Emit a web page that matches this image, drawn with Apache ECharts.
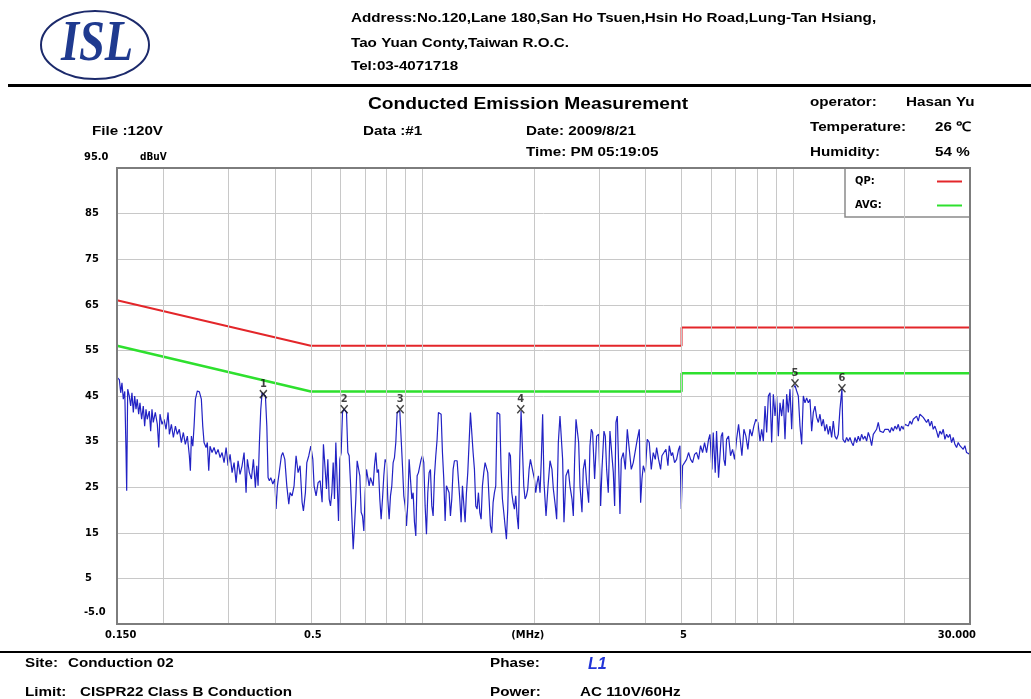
<!DOCTYPE html>
<html>
<head>
<meta charset="utf-8">
<script src="https://cdn.jsdelivr.net/npm/echarts@6/dist/echarts.min.js"></script>
<style>
html, body { margin: 0; padding: 0; background: #fff; }
#main { width: 1031px; height: 699px; }
</style>
</head>
<body>
<div id="main"></div>
<script>
// measured trace, frequency in MHz / level in dBuV
const traceFreq = [
  0.1500,0.1503,0.1522,0.1535,0.1547,0.1560,0.1574,0.1586,0.1593,0.1603,
  0.1619,0.1633,0.1646,0.1660,0.1674,0.1688,0.1701,0.1716,0.1730,0.1748,
  0.1766,0.1781,0.1796,0.1810,0.1833,0.1849,0.1864,0.1879,0.1903,0.1927,
  0.1944,0.1959,0.1984,0.2009,0.2034,0.2060,0.2077,0.2103,0.2129,0.2156,
  0.2182,0.2209,0.2237,0.2265,0.2293,0.2322,0.2351,0.2366,0.2381,0.2402,
  0.2421,0.2441,0.2471,0.2502,0.2533,0.2555,0.2576,0.2608,0.2629,0.2652,
  0.2673,0.2707,0.2741,0.2775,0.2810,0.2846,0.2881,0.2917,0.2954,0.2990,
  0.3028,0.3066,0.3104,0.3143,0.3182,0.3221,0.3262,0.3303,0.3344,0.3371,
  0.3413,0.3457,0.3500,0.3543,0.3574,0.3603,0.3633,0.3664,0.3694,0.3724,
  0.3771,0.3804,0.3834,0.3865,0.3899,0.3948,0.3997,0.4029,0.4063,0.4113,
  0.4165,0.4202,0.4254,0.4307,0.4360,0.4395,0.4450,0.4506,0.4562,0.4619,
  0.4677,0.4736,0.4775,0.4834,0.4877,0.4937,0.4999,0.5062,0.5102,0.5166,
  0.5231,0.5297,0.5363,0.5407,
  0.5466,0.5511,0.5557,0.5604,0.5650,0.5697,0.5745,0.5792,0.5840,0.5889,
  0.5938,0.5987,0.6037,0.6087,0.6138,0.6189,0.6240,0.6292,0.6344,0.6397,
  0.6450,0.6504,0.6558,0.6612,0.6667,0.6723,0.6779,0.6835,0.6892,0.6949,
  0.7007,0.7065,0.7124,0.7183,0.7243,0.7303,0.7364,0.7425,0.7487,0.7549,
  0.7611,0.7674,0.7738,0.7803,0.7867,0.7933,0.7999,0.8065,0.8132,0.8200,
  0.8268,0.8337,0.8406,0.8476,0.8546,0.8618,0.8689,0.8761,0.8834,0.8908,
  0.8982,0.9057,0.9132,0.9208,0.9284,0.9362,0.9440,0.9518,0.9597,0.9677,
  0.9757,0.9838,0.9920,1.0002,1.0085,1.0169,1.0254,1.0339,1.0425,1.0511,
  1.0599,1.0687,1.0776,1.0865,1.0955,1.1046,1.1138,1.1231,1.1324,1.1418,
  1.1514,1.1609,1.1706,1.1803,1.1901,1.2000,1.2100,1.2200,1.2302,1.2404,
  1.2507,1.2611,1.2716,1.2822,1.2928,1.3036,1.3144,1.3253,1.3364,1.3475,
  1.3587,1.3700,1.3814,1.3929,1.4044,1.4161,1.4279,1.4398,1.4517,1.4638,
  1.4759,1.4882,1.5006,1.5130,1.5256,1.5383,1.5511,1.5640,1.5770,1.5901,
  1.6033,1.6166,1.6301,1.6436,1.6573,1.6711,1.6850,1.6990,1.7131,1.7273,
  1.7417,1.7562,1.7708,1.7855,1.8004,1.8153,1.8304,1.8456,1.8610,1.8765,
  1.8920,1.9078,1.9236,1.9396,1.9557,1.9720,1.9884,2.0049,2.0216,2.0384,
  2.0553,
  2.076,2.093,2.110,2.128,2.155,2.182,2.209,2.236,2.255,2.283,
  2.302,2.326,2.350,2.375,2.389,2.409,2.439,2.475,2.500,2.532,
  2.553,2.574,2.596,2.617,2.639,2.661,2.694,2.716,2.745,2.773,
  2.808,2.831,2.855,2.878,2.914,2.951,2.988,3.025,3.050,3.088,
  3.114,3.140,3.172,3.205,3.245,3.273,3.300,3.327,3.355,3.383,
  3.411,3.439,3.482,3.526,3.570,3.614,3.659,3.705,3.751,3.798,
  3.846,3.878,3.910,3.943,3.992,4.041,4.092,4.143,4.195,4.247,
  4.283,4.336,4.390,4.427,4.482,4.538,4.595,4.633,4.691,4.730,
  4.789,4.849,4.909,4.950,4.992,5.033,5.096,5.159,5.223,5.289,
  5.355,5.422,5.490,5.558,5.627,5.698,5.769,5.841,5.914,5.964,
  6.038,6.088,6.164,6.215,6.293,6.346,6.398,6.451,6.505,6.559,
  6.614,6.696,6.780,6.865,6.951,7.038,7.126,7.184,7.274,7.365,
  7.457,7.550,7.645,7.740,7.836,7.935,8.034,
  8.057,8.141,8.226,8.311,8.398,8.485,8.573,8.662,8.752,8.843,
  8.936,9.028,9.123,9.217,9.313,9.410,9.508,9.606,9.707,9.807,
  9.910,10.012,10.117,10.222,10.328,10.436,10.545,10.654,10.766,10.877,
  10.990,11.104,11.220,11.336,11.455,11.574,11.694,11.815,11.937,12.061,
  12.186,12.313,12.442,12.571,12.702,12.834,12.967,13.102,13.238,13.375,
  13.460,13.542,13.628,
  13.798,13.941,14.087,14.234,14.381,14.531,14.683,14.835,14.990,15.145,
  15.303,15.462,15.623,15.785,15.950,16.116,16.284,16.452,16.623,16.796,
  16.970,17.147,17.326,17.506,17.689,17.871,18.058,18.246,18.435,18.627,
  18.822,19.017,19.216,19.414,19.616,19.820,20.026,20.234,20.446,20.658,
  20.873,21.089,21.308,21.530,21.753,21.979,22.209,22.440,22.674,22.908,
  23.147,23.388,23.631,23.876,24.126,24.376,24.631,24.885,25.146,25.408,
  25.672,25.938,26.210,26.481,26.758,27.034,27.314,27.598,27.885,28.174,
  28.469,28.765,29.065,29.366,29.672,30.000
];
const traceLevel = [
  22,49,48.6,45.7,47.9,44.3,46,33.3,24.2,46.5,
  45,42.8,45.7,41.4,45,42.1,44.3,41,43.5,39.9,
  42.8,38.4,42.1,39.9,41.7,37.3,42.1,39.2,41.4,38.8,
  33.7,41,38.8,39.9,37.7,41.4,36.6,38.8,35.9,38.4,
  36.6,37.7,34.8,37,34.4,36.2,31.9,28.6,36.2,34,
  38.4,44.3,46.1,45.9,44.3,38.4,34.8,33.7,34.8,28.6,
  34,32.6,33.7,32.2,33.3,31.5,32.6,30.4,33.7,29.7,
  32.2,28.2,30.4,26,30.8,27.8,29.7,32.6,23.8,31.1,
  28.2,26.8,31.1,24.9,29.7,25.3,34.8,42.1,45.7,45.8,
  45,38.4,27.1,26.4,27.1,25.7,26.8,20.2,25.3,24.9,
  31.9,32.6,31.1,25.3,21.3,23.8,23.1,25.3,31.9,28.2,
  29.7,21.7,19.8,23.8,30.4,31.9,34,31.1,25.3,23.1,
  26,26.4,21.7,34.4,
  34.8,24.6,31.1,22.4,20.9,23.8,30.4,22.4,34.8,34.8,
  17.6,31.1,32.6,41.4,42.1,42.1,41.4,32.6,31.9,26.0,
  18.7,11.4,16.5,22.4,30.8,31.1,27.5,19.5,18.7,15.4,
  23.8,28.9,29.3,25.3,27.1,27.5,25.3,29.7,32.6,28.2,
  28.9,22.4,18.0,22.4,27.5,31.1,30.4,22.4,18.0,23.1,
  25.3,30.4,31.5,34.8,41.4,41.7,41.7,41.4,29.7,23.1,
  20.9,16.5,21.6,31.1,31.5,22.4,23.8,17.3,14.3,27.5,
  28.2,29.7,31.1,31.9,30.4,20.9,14.7,23.8,28.2,28.9,
  20.9,18.7,27.5,31.9,35.5,41.4,41.4,41.0,32.6,26.8,
  17.6,25.3,25.7,23.8,18.7,22.4,28.9,30.8,31.1,30.8,
  30.4,22.4,17.3,25.3,25.3,17.3,23.8,28.2,34.8,41.4,
  41.4,32.6,28.9,20.9,20.2,23.8,19.5,18.0,25.3,28.2,
  30.4,30.0,28.2,22.4,16.5,15.0,21.6,23.8,25.3,41.4,
  41.7,41.0,28.9,22.4,19.5,16.5,13.6,20.2,32.6,31.9,
  23.8,21.6,20.2,23.1,18.7,15.8,31.1,41.7,41.4,25.3,
  22.4,23.1,24.6,28.9,31.1,31.5,28.2,26.8,23.8,26.0,
  27.5,
  23.8,31.1,41.0,26.0,18.7,25.3,30.8,28.9,24.6,20.9,
  18.0,34.8,40.6,40.3,31.1,17.3,27.5,28.9,25.3,22.4,
  18.7,31.1,39.9,39.5,34.8,25.3,19.5,28.9,31.1,26.0,
  21.6,34.1,37.7,37.0,26.8,36.2,36.6,20.9,28.9,37.3,
  36.2,28.9,23.8,37.3,37.3,28.2,20.9,39.2,40.6,41.0,
  19.1,31.1,32.6,28.9,37.7,37.3,28.9,30.4,30.8,35.5,
  37.7,21.6,26.8,29.7,28.2,35.5,34.8,28.9,32.6,31.1,
  33.7,31.1,28.9,31.9,32.6,33.3,29.7,34.1,31.9,32.6,
  30.4,31.1,33.3,34.1,20.2,29.7,30.4,31.1,32.6,31.1,
  30.4,32.2,32.6,31.1,34.1,32.6,34.8,32.6,35.5,36.6,
  28.9,37.0,28.2,37.3,27.1,26.8,36.2,37.0,31.1,29.7,
  35.5,36.2,31.9,33.3,31.1,35.5,38.8,38.4,31.9,37.7,
  36.2,33.3,37.7,36.2,38.4,39.9,39.2,
  38.4,35.1,37.7,35.1,42.8,37.0,45.0,45.7,34.8,45.4,
  40.6,45.0,36.2,43.5,40.6,44.3,35.5,45.4,41.4,46.5,
  37.7,46.8,47.3,46.1,45.0,38.4,34.4,45.0,43.5,44.6,
  43.5,44.3,37.3,41.4,42.8,40.3,39.2,41.0,38.4,39.9,
  37.3,38.8,36.6,38.4,35.9,39.5,36.2,35.5,36.6,42.1,
  42.4,46.6,35.5,
  34.8,35.9,35.1,35.9,34.8,34.1,35.9,34.8,36.2,35.1,
  36.6,35.5,36.2,35.1,37.0,35.9,34.1,36.6,36.2,37.7,
  39.2,37.3,37.7,37.0,37.7,37.3,37.7,37.0,38.1,37.3,
  38.4,37.7,38.8,37.3,38.4,37.7,38.8,39.2,38.4,39.5,
  38.8,39.9,40.3,40.6,39.5,41.0,41.4,40.3,40.6,39.2,
  39.9,38.4,39.5,37.7,38.4,37.3,35.9,37.3,36.6,37.7,
  35.5,36.6,35.9,36.6,34.8,35.9,34.4,33.7,34.8,34.1,
  34.4,33.3,34.1,32.6,33.0,32.2
];

// CISPR22 class B limits
const qpFreq = [0.15, 0.5, 5, 5, 30];
const qpLevel = [66, 56, 56, 60, 60];
const avgFreq = [0.15, 0.5, 5, 5, 30];
const avgLevel = [56, 46, 46, 50, 50];

// peak markers
const markerNo = ['1', '2', '3', '4', '5', '6'];
const markerFreq = [0.3723, 0.6151, 0.8707, 1.842, 10.117, 13.542];
const markerLevel = [45.4, 42.1, 42.1, 42.1, 47.8, 46.7];

// axes
const xGridMHz = [0.2, 0.3, 0.4, 0.5, 0.6, 0.7, 0.8, 0.9, 1, 2, 3, 4, 5, 6, 7, 8, 9, 10, 20];
const xTickAt = [0.15, 0.5, 1.9, 5, 30];
const xTickText = ['0.150', '0.5', '(MHz)', '5', '30.000'];
const yEndAt = [95, -5];
const yEndText = ['95.0', '-5.0'];

const narrow = '"Liberation Sans Narrow","DejaVu Sans Condensed",sans-serif';
const sans = '"Liberation Sans",Arial,sans-serif';

const chart = echarts.init(document.getElementById('main'));

const pairs = (xs, ys) => xs.map((x, i) => [x, ys[i]]);

chart.setOption({
  animation: false,
  backgroundColor: '#fff',
  grid: { left: 117, top: 168, width: 853, height: 456, show: false },
  xAxis: {
    type: 'log', logBase: 10, min: 0.15, max: 30,
    axisLine: { show: false }, axisTick: { show: false },
    axisLabel: { show: false }, splitLine: { show: false }
  },
  yAxis: {
    type: 'value', min: -5, max: 95, interval: 10,
    axisLine: { show: false }, axisTick: { show: false },
    axisLabel: {
      showMinLabel: false, showMaxLabel: false,
      align: 'left', margin: 32, color: '#000',
      fontSize: 11, fontWeight: 'bold', fontFamily: narrow
    },
    splitLine: { lineStyle: { color: '#c8c8c8', width: 1 } }
  },
  legend: {
    data: ['QP', 'AVG'], orient: 'vertical', right: 61, top: 168, align: 'right',
    icon: 'rect', itemWidth: 25, itemHeight: 2, itemGap: 13,
    padding: [8, 8, 6, 10], backgroundColor: '#fff',
    borderColor: '#8a8a8a', borderWidth: 1.5, borderRadius: 0,
    selectedMode: false,
    formatter: n => '{t|' + n + ':}',
    textStyle: {
      rich: { t: { width: 77, align: 'left', fontSize: 11, fontWeight: 'bold', fontFamily: narrow, color: '#000' } }
    }
  },
  series: [
    {
      name: 'grid', type: 'line', data: [[0.15, -5]], symbol: 'none', silent: true, z: 1,
      lineStyle: { width: 0 },
      markLine: {
        silent: true, symbol: 'none', label: { show: false }, emphasis: { disabled: true },
        lineStyle: { color: '#c8c8c8', width: 1, type: 'solid' },
        data: xGridMHz.map(v => ({ xAxis: v }))
      }
    },
    {
      name: 'Trace', type: 'line', data: pairs(traceFreq, traceLevel), symbol: 'none', silent: true, z: 3,
      lineStyle: { color: '#2222c4', width: 1.2 }, itemStyle: { color: '#2222c4' }
    },
    {
      name: 'QP', type: 'line', data: pairs(qpFreq, qpLevel), symbol: 'none', silent: true, z: 4,
      lineStyle: { color: '#e3262a', width: 2 }, itemStyle: { color: '#e3262a' }
    },
    {
      name: 'AVG', type: 'line', data: pairs(avgFreq, avgLevel), symbol: 'none', silent: true, z: 4,
      lineStyle: { color: '#2ee02e', width: 2.5 }, itemStyle: { color: '#2ee02e' }
    },
    {
      name: 'Markers', type: 'scatter', silent: true, z: 5,
      symbol: 'path://M0,0L10,10M10,0L0,10', symbolSize: [7, 8],
      itemStyle: { color: 'rgba(0,0,0,0)', borderColor: '#111', borderWidth: 1.5 },
      label: { show: true, position: 'top', distance: 0, formatter: p => p.name, fontSize: 11, fontWeight: 'bold', fontFamily: narrow, color: '#111' },
      data: markerNo.map((n, i) => ({ name: n, value: [markerFreq[i], markerLevel[i]] }))
    }
  ]
});

// labels placed through the axis scales
const g = [];
// header/footer text is drawn a bit wide, like the printed report
const txt = (text, x, y, font, extra, sx) => ({
  type: 'text', silent: true, z: 50, x: x, y: y, scaleX: sx || 1,
  style: Object.assign({ text: text, x: 0, y: 0, font: font, fill: '#000', textVerticalAlign: 'middle' }, extra || {})
});
xTickAt.forEach((v, i) => {
  const px = chart.convertToPixel({ xAxisIndex: 0 }, v);
  const align = i === 0 ? 'left' : (i === xTickAt.length - 1 ? 'right' : 'center');
  const dx = i === 0 ? -12 : (i === xTickAt.length - 1 ? 6 : 2);
  g.push(txt(xTickText[i], px + dx, 635, 'bold 11px ' + narrow, { textAlign: align }));
});
yEndAt.forEach((v, i) => {
  const py = chart.convertToPixel({ yAxisIndex: 0 }, v);
  g.push(txt(yEndText[i], 84, py + (i === 0 ? -11 : -12), 'bold 11px ' + narrow));
});
g.push(txt('dBuV', 140, 157, 'bold 10px ' + narrow));

// frame of the plot
g.push({ type: 'rect', silent: true, z: 40, shape: { x: 117, y: 168, width: 853, height: 456 },
  style: { fill: 'none', stroke: '#7d7d7d', lineWidth: 2 } });

// logo
g.push({ type: 'ellipse', silent: true, z: 30, shape: { cx: 95, cy: 45, rx: 54, ry: 34 },
  style: { fill: '#fff', stroke: '#1c2a6b', lineWidth: 2 } });
g.push({ type: 'text', silent: true, z: 31, x: 97, y: 45, scaleX: 0.8,
  style: { text: 'ISL', x: 0, y: 0, font: 'italic bold 58px "Liberation Serif",serif', fill: '#1f3a8f', textAlign: 'center', textVerticalAlign: 'middle' } });

// header
const b13 = 'bold 13px ' + sans;
const W = 1.17;
g.push(txt('Address:No.120,Lane 180,San Ho Tsuen,Hsin Ho Road,Lung-Tan Hsiang,', 351, 18, b13, null, W));
g.push(txt('Tao Yuan Conty,Taiwan R.O.C.', 351, 43, b13, null, W));
g.push(txt('Tel:03-4071718', 351, 66, b13, null, W));
g.push({ type: 'line', silent: true, shape: { x1: 8, y1: 85.5, x2: 1031, y2: 85.5 }, style: { stroke: '#000', lineWidth: 3 } });
g.push(txt('Conducted Emission Measurement', 528, 104, 'bold 17px ' + sans, { textAlign: 'center' }, 1.13));
g.push(txt('File :120V', 92, 131, b13, null, W));
g.push(txt('Data :#1', 363, 131, b13, null, W));
g.push(txt('Date: 2009/8/21', 526, 131, b13, null, W));
g.push(txt('Time: PM 05:19:05', 526, 152, b13, null, W));
g.push(txt('operator:', 810, 102, b13, null, W));
g.push(txt('Hasan Yu', 906, 102, b13, null, W));
g.push(txt('Temperature:', 810, 127, b13, null, W));
g.push(txt('26 \u2103', 935, 127, b13, null, W));
g.push(txt('Humidity:', 810, 152, b13, null, W));
g.push(txt('54 %', 935, 152, b13, null, W));

// footer
g.push({ type: 'line', silent: true, shape: { x1: 0, y1: 652, x2: 1031, y2: 652 }, style: { stroke: '#000', lineWidth: 2 } });
g.push(txt('Site:', 25, 663, b13, null, W));
g.push(txt('Conduction 02', 68, 663, b13, null, W));
g.push(txt('Limit:', 25, 692, b13, null, W));
g.push(txt('CISPR22 Class B Conduction', 80, 692, b13, null, W));
g.push(txt('Phase:', 490, 663, b13, null, W));
g.push(txt('L1', 588, 665, 'italic bold 16px ' + sans, { fill: '#2235d8' }));
g.push(txt('Power:', 490, 692, b13, null, W));
g.push(txt('AC 110V/60Hz', 580, 692, b13, null, W));

chart.setOption({ graphic: { elements: g } });
</script>
</body>
</html>
